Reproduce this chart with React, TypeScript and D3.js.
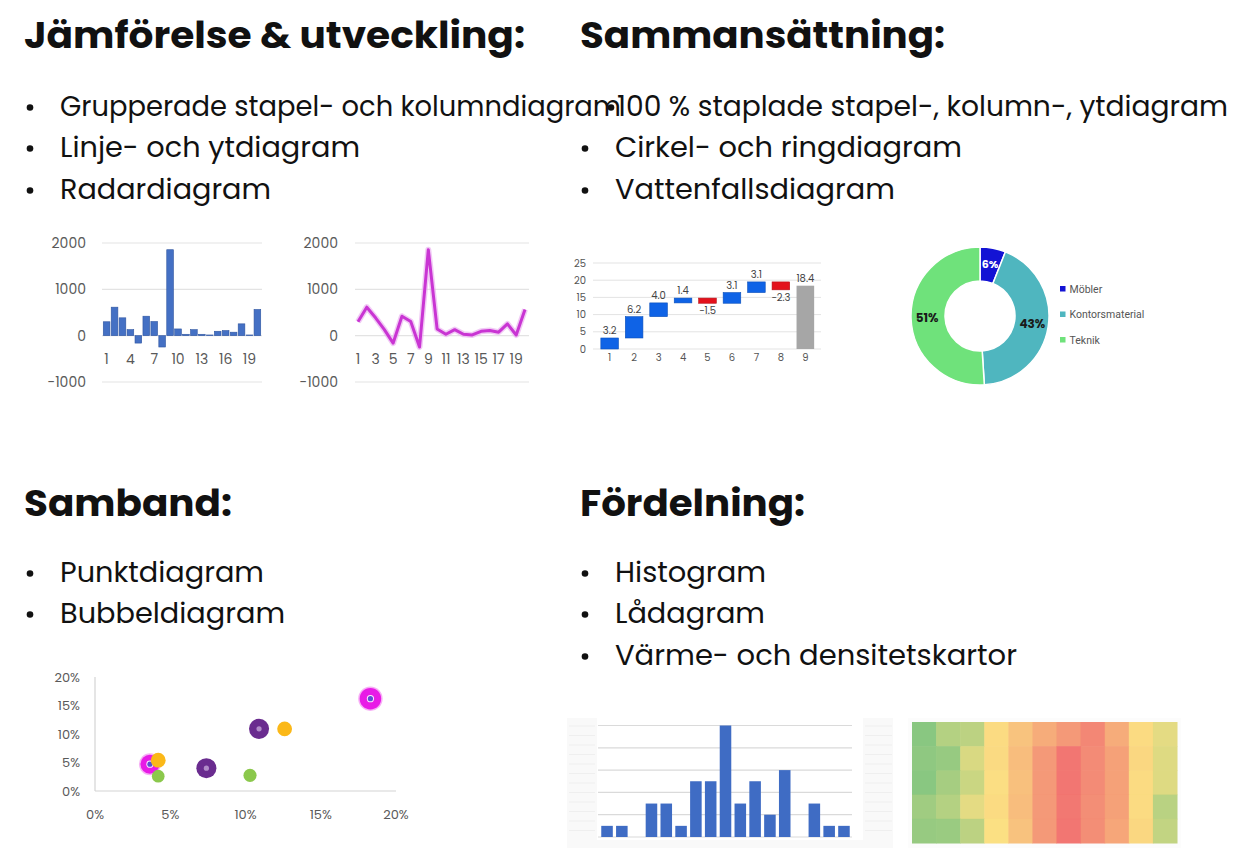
import React from "react";
import * as d3 from "d3";

// ---- text content ----
const topLeftTitle = "Jämförelse & utveckling:";
const topLeftItems = ["Grupperade stapel- och kolumndiagram", "Linje- och ytdiagram", "Radardiagram"];
const topRightTitle = "Sammansättning:";
const topRightItems = ["100 % staplade stapel-, kolumn-, ytdiagram", "Cirkel- och ringdiagram", "Vattenfallsdiagram"];
const bottomLeftTitle = "Samband:";
const bottomLeftItems = ["Punktdiagram", "Bubbeldiagram"];
const bottomRightTitle = "Fördelning:";
const bottomRightItems = ["Histogram", "Lådagram", "Värme- och densitetskartor"];

// ---- column / line chart ----
const periodCats = ["1", "2", "3", "4", "5", "6", "7", "8", "9", "10", "11", "12", "13", "14", "15", "16", "17", "18", "19", "20"];
const periodValues = [300, 615, 385, 130, -160, 420, 305, -245, 1855, 145, 30, 130, 30, 15, 95, 110, 75, 255, 15, 565];
const periodTicks = [-1000, 0, 1000, 2000];
const barTickLabels = ["1", "4", "7", "10", "13", "16", "19"];
const lineTickLabels = ["1", "3", "5", "7", "9", "11", "13", "15", "17", "19"];

// ---- waterfall ----
const wfCats = ["1", "2", "3", "4", "5", "6", "7", "8", "9"];
const wfChanges = [3.2, 6.2, 4.0, 1.4, -1.5, 3.1, 3.1, -2.3];
const wfTotal = 18.4;

// ---- donut ----
const donutLabels = ["Möbler", "Kontorsmaterial", "Teknik"];
const donutValues = [6, 43, 51];
const donutColors = ["#1313d4", "#4fb6bf", "#6fe27b"];

// ---- bubble chart ----
const bubbleSeries = ["A", "B", "C", "D"];
const bubbleX = [[0.183, 0.0365], [0.109, 0.074], [0.126, 0.042], [0.042, 0.103]];
const bubbleY = [[0.162, 0.047], [0.109, 0.04], [0.109, 0.054], [0.026, 0.0275]];
const bubbleSize = [[80, 62], [70, 70], [38, 38], [28, 30]];
const bubbleColors = ["#e81be6", "#6a2c8f", "#fbb818", "#8bc84c"];
const bubbleDots = ["#5b52d2", "#b18cc9", null, null];
const pctTicks = [0, 0.05, 0.1, 0.15, 0.2];

// ---- histogram ----
const histBins = ["1", "2", "3", "4", "5", "6", "7", "8", "9", "10", "11", "12", "13", "14", "15", "16", "17"];
const histCounts = [1, 1, 0, 3, 3, 1, 5, 5, 10, 3, 5, 2, 6, 0, 3, 1, 1];
const histTicks = [0, 2, 4, 6, 8, 10];

// ---- heatmap ----
const heatCols = ["1", "2", "3", "4", "5", "6", "7", "8", "9", "10", "11"];
const heatRowNames = ["a", "b", "c", "d", "e"];
const heatRow0 = [10, 25, 28, 52, 62, 72, 80, 88, 72, 52, 42];
const heatRow1 = [12, 15, 38, 53, 65, 80, 95, 86, 77, 54, 40];
const heatRow2 = [10, 20, 33, 51, 64, 80, 95, 86, 77, 52, 40];
const heatRow3 = [18, 25, 42, 52, 65, 80, 94, 85, 77, 52, 27];
const heatRow4 = [15, 16, 28, 50, 63, 80, 95, 85, 75, 54, 30];
const heatRows = [heatRow0, heatRow1, heatRow2, heatRow3, heatRow4];

const FONT = "Poppins, Inter, 'Noto Sans', sans-serif";
const TICK = "#595959";
const GRID = "#e3e3e3";

function TextLine({ x, y, w, size, weight = 400, children }) {
  return (
    <text
      x={x}
      y={y}
      fontSize={size}
      fontWeight={weight}
      fill="#111"
      textLength={w}
      lengthAdjust="spacingAndGlyphs"
    >
      {children}
    </text>
  );
}

function Bullets({ items, bxs, txs, baselines, widths }) {
  return (
    <g>
      {items.map((t, i) => (
        <g key={t}>
          <circle cx={bxs[i]} cy={baselines[i] - 8.5} r={3.3} fill="#111" />
          <TextLine x={txs[i]} y={baselines[i]} w={widths[i]} size={28}>
            {t}
          </TextLine>
        </g>
      ))}
    </g>
  );
}

function ColumnChart() {
  const x = d3.scaleBand().domain(periodCats).range([102, 262]).padding(0.16);
  const y = d3.scaleLinear().domain([-1000, 2000]).range([382, 243]);
  return (
    <g>
      {periodTicks.map((t) => (
        <g key={t}>
          <line x1={102} x2={262} y1={y(t)} y2={y(t)} stroke={GRID} strokeWidth={1.2} />
          <text x={86} y={y(t) + 5} textAnchor="end" fontSize={14} fill={TICK}>
            {t}
          </text>
        </g>
      ))}
      {periodValues.map((v, i) => (
        <rect
          key={i}
          x={x(periodCats[i])}
          y={y(Math.max(0, v))}
          width={x.bandwidth()}
          height={Math.abs(y(v) - y(0))}
          fill="#4470c4"
          stroke="#2f55a0"
          strokeWidth={0.6}
        />
      ))}
      {barTickLabels.map((c) => (
        <text key={c} x={x(c) + x.bandwidth() / 2} y={364} textAnchor="middle" fontSize={14} fill={TICK}>
          {c}
        </text>
      ))}
    </g>
  );
}

function LineChart() {
  const x = d3.scalePoint().domain(periodCats).range([358, 525]);
  const y = d3.scaleLinear().domain([-1000, 2000]).range([382, 243]);
  const line = d3
    .line<number>()
    .x((d, i) => x(periodCats[i]))
    .y((d) => y(d));
  return (
    <g>
      {periodTicks.map((t) => (
        <g key={t}>
          <line x1={355} x2={529} y1={y(t)} y2={y(t)} stroke={GRID} strokeWidth={1.2} />
          <text x={338} y={y(t) + 5} textAnchor="end" fontSize={14} fill={TICK}>
            {t}
          </text>
        </g>
      ))}
      <path d={line(periodValues)} fill="none" stroke="#e7a6ee" strokeWidth={6} strokeOpacity={0.6} strokeLinejoin="round" />
      <path d={line(periodValues)} fill="none" stroke="#c935d3" strokeWidth={3} strokeLinejoin="round" />
      {lineTickLabels.map((c) => (
        <text key={c} x={x(c)} y={364} textAnchor="middle" fontSize={14} fill={TICK}>
          {c}
        </text>
      ))}
    </g>
  );
}

function Waterfall() {
  const x = d3.scaleBand().domain(wfCats).range([594, 821]).padding(0.28);
  const y = d3.scaleLinear().domain([0, 25]).range([349, 263]);
  const fmt = d3.format(".1f");
  let run = 0;
  const bars = wfChanges.map((v, i) => {
    const b = { cat: wfCats[i], start: run, end: run + v, v, total: false };
    run += v;
    return b;
  });
  bars.push({ cat: wfCats[8], start: 0, end: wfTotal, v: wfTotal, total: true });
  return (
    <g fontSize={10} fill="#444">
      {y.ticks(5).map((t) => (
        <g key={t}>
          <line x1={593} x2={821} y1={y(t)} y2={y(t)} stroke={GRID} strokeWidth={1} />
          <text x={586} y={y(t) + 3.5} textAnchor="end" fill="#555">
            {t}
          </text>
        </g>
      ))}
      {bars.map((b) => {
        const top = y(Math.max(b.start, b.end));
        const bot = y(Math.min(b.start, b.end));
        const color = b.total ? "#a6a6a6" : b.v >= 0 ? "#0f63e6" : "#e3121c";
        const cx = x(b.cat) + x.bandwidth() / 2;
        return (
          <g key={b.cat}>
            <rect x={x(b.cat)} y={top} width={x.bandwidth()} height={bot - top} fill={color} stroke={b.total ? "none" : d3.color(color).darker(0.6)} strokeWidth={0.6} />
            <text x={cx} y={b.v >= 0 ? top - 4 : bot + 11} textAnchor="middle" fill="#444">
              {fmt(b.v)}
            </text>
          </g>
        );
      })}
      {wfCats.map((c) => (
        <text key={c} x={x(c) + x.bandwidth() / 2} y={361} textAnchor="middle" fill="#555">
          {c}
        </text>
      ))}
    </g>
  );
}

function Donut() {
  const pie = d3.pie<number>().sort(null).value((d) => d);
  const arcs = pie(donutValues);
  const arc = d3.arc().innerRadius(35).outerRadius(69);
  const labelArc = d3.arc().innerRadius(53).outerRadius(53);
  const legendY = d3.scalePoint().domain(donutLabels).range([289, 340]);
  return (
    <g>
      <g transform="translate(980,316)">
        {arcs.map((a, i) => (
          <path key={i} d={arc(a)} fill={donutColors[i]} stroke="#fff" strokeWidth={1.5} />
        ))}
        {arcs.map((a, i) => {
          const [cx, cy] = labelArc.centroid(a);
          return (
            <text key={i} x={cx} y={cy + 4} textAnchor="middle" fontSize={i === 0 ? 11 : 12} fontWeight={700} fill={i === 0 ? "#fff" : "#1a1a1a"}>
              {d3.format(".0%")(donutValues[i] / 100)}
            </text>
          );
        })}
      </g>
      {donutLabels.map((l, i) => (
        <g key={l}>
          <rect x={1060} y={legendY(l) - 3} width={5.5} height={5.5} fill={donutColors[i]} />
          <text x={1069.5} y={legendY(l) + 3.8} fontSize={10.5} fontFamily="Roboto, sans-serif" fill="#555">
            {l}
          </text>
        </g>
      ))}
    </g>
  );
}

function Bubbles() {
  const x = d3.scaleLinear().domain([0, 0.2]).range([95, 396]);
  const y = d3.scaleLinear().domain([0, 0.2]).range([791, 677]);
  const r = d3.scaleSqrt().domain([0, 100]).range([0, 12]);
  const fmt = d3.format(".0%");
  return (
    <g>
      <line x1={95} x2={95} y1={677} y2={791} stroke="#d4d4d4" strokeWidth={1.2} />
      <line x1={95} x2={396} y1={791} y2={791} stroke="#d4d4d4" strokeWidth={1.2} />
      {pctTicks.map((t) => (
        <g key={t}>
          <text x={80} y={y(t) + 4.5} textAnchor="end" fontSize={13} fill={TICK}>
            {fmt(t)}
          </text>
          <text x={x(t)} y={819} textAnchor="middle" fontSize={13} fill={TICK}>
            {fmt(t)}
          </text>
        </g>
      ))}
      {bubbleSeries.map((s, si) =>
        bubbleX[si].map((bx, j) => (
          <g key={s + j}>
            <circle cx={x(bx)} cy={y(bubbleY[si][j])} r={r(bubbleSize[si][j]) + (si === 0 ? 1.5 : 0)} fill={bubbleColors[si]} opacity={si === 0 ? 0.35 : 0} />
            <circle cx={x(bx)} cy={y(bubbleY[si][j])} r={r(bubbleSize[si][j])} fill={bubbleColors[si]} />
            {bubbleDots[si] && (
              <>
                <circle cx={x(bx)} cy={y(bubbleY[si][j])} r={3.6} fill="#fff" opacity={si === 0 ? 0.9 : 0} />
                <circle cx={x(bx)} cy={y(bubbleY[si][j])} r={2.6} fill={bubbleDots[si]} />
              </>
            )}
          </g>
        ))
      )}
    </g>
  );
}

function Histogram() {
  const x = d3.scaleBand().domain(histBins).range([598, 853]).padding(0.22);
  const y = d3.scaleLinear().domain([0, 10]).range([837, 725.5]);
  return (
    <g>
      <rect x={567} y={718} width={326} height={130} fill="#f9f9f9" />
      <rect x={597} y={718} width={266} height={122} fill="#fff" />
      {[0, 1, 2, 3, 4, 5, 6, 7, 8, 9, 10, 11].map((k) => (
        <g key={k}>
          <line x1={569} x2={595} y1={726 + k * 9.5} y2={726 + k * 9.5} stroke="#efefef" strokeWidth={1} />
          <line x1={865} x2={892} y1={726 + k * 9.5} y2={726 + k * 9.5} stroke="#efefef" strokeWidth={1} />
        </g>
      ))}
      {histTicks.map((t) => (
        <line key={t} x1={598} x2={852} y1={y(t)} y2={y(t)} stroke="#dadada" strokeWidth={1.2} />
      ))}
      {histCounts.map((c, i) => (
        <rect key={i} x={x(histBins[i])} y={y(c)} width={x.bandwidth()} height={y(0) - y(c)} fill="#3f6cc4" />
      ))}
    </g>
  );
}

function Heatmap() {
  const x = d3.scaleBand().domain(heatCols).range([912, 1177]);
  const y = d3.scaleBand().domain(heatRowNames).range([722, 843]);
  const color = d3.scaleLinear<string>().domain([0, 50, 100]).range(["#66be7b", "#fbdf7e", "#f0646a"]);
  return (
    <g>
      <rect x={908} y={718} width={273} height={130} fill="#fcfcfc" />
      {heatRows.map((row, ri) =>
        row.map((v, ci) => (
          <rect
            key={ri + "-" + ci}
            x={x(heatCols[ci])}
            y={y(heatRowNames[ri])}
            width={x.bandwidth() + 0.5}
            height={y.bandwidth() + 0.5}
            fill={color(v)}
            opacity={0.96}
          />
        ))
      )}
    </g>
  );
}

export default function App() {
  return (
    <svg
      width={1238}
      height={848}
      viewBox="0 0 1238 848"
      style={{ position: "absolute", left: 0, top: 0, background: "#fff" }}
      fontFamily={FONT}
    >
      <rect width={1238} height={848} fill="#fff" />

      <TextLine x={24} y={48} w={501} size={36} weight={700}>{topLeftTitle}</TextLine>
      <TextLine x={580} y={48} w={365} size={36} weight={700}>{topRightTitle}</TextLine>
      <TextLine x={24} y={516} w={208} size={36} weight={700}>{bottomLeftTitle}</TextLine>
      <TextLine x={580} y={516} w={225} size={36} weight={700}>{bottomRightTitle}</TextLine>

      <Bullets items={topLeftItems} bxs={[30, 30, 30]} txs={[60, 60, 60]} baselines={[116, 157, 199]} widths={[561, 300, 211]} />
      <Bullets items={topRightItems} bxs={[611, 585, 585]} txs={[617, 615, 615]} baselines={[116, 157, 199]} widths={[611, 347, 280]} />
      <Bullets items={bottomLeftItems} bxs={[30, 30]} txs={[60, 60]} baselines={[582, 623]} widths={[204, 225]} />
      <Bullets items={bottomRightItems} bxs={[585, 585, 585]} txs={[615, 615, 615]} baselines={[582, 623, 665]} widths={[151, 150, 402]} />

      <ColumnChart />
      <LineChart />
      <Waterfall />
      <Donut />
      <Bubbles />
      <Histogram />
      <Heatmap />
    </svg>
  );
}
